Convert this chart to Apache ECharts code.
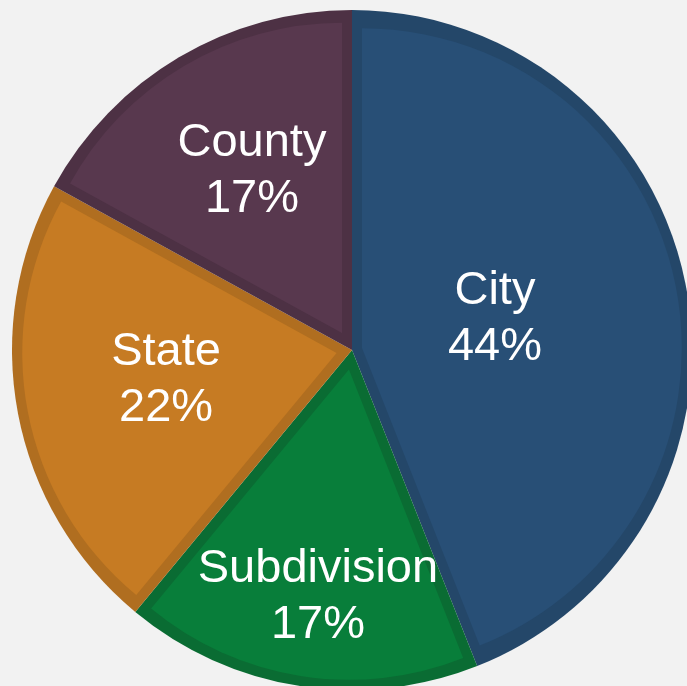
<!DOCTYPE html>
<html>
<head>
<meta charset="utf-8">
<style>
  html, body { margin: 0; padding: 0; background: #f2f2f2; }
  #chart { width: 687px; height: 686px; }
</style>
<script src="https://cdn.jsdelivr.net/npm/echarts@6/dist/echarts.min.js"></script>
</head>
<body>
<div id="chart"></div>
<script>
var categories = ['City', 'Subdivision', 'State', 'County'];
var shares = [44, 17, 22, 17];

var fillColors = ['#284f76', '#087e3a', '#c67b23', '#58384e'];
var edgeColors = ['#244769', '#0a6c33', '#b06e20', '#4d3144'];
var labelOffsets = [[-27, 1], [-7, 76], [-16, -2], [-12, -30]];

var R = 340, band = 10;
var chart = echarts.init(document.getElementById('chart'));
var total = shares.reduce(function (a, b) { return a + b; }, 0);

function basePie(z) {
  return {
    type: 'pie',
    center: [352, 350],
    radius: [0, R],
    startAngle: 90,
    clockwise: true,
    silent: true,
    animation: false,
    emphasis: { disabled: true },
    label: { show: false },
    labelLine: { show: false },
    z: z
  };
}

// outer layer: dark edge colour of each slice
var series = [];
var outer = basePie(1);
outer.data = categories.map(function (c, i) {
  return { name: c, value: shares[i], itemStyle: { color: edgeColors[i] } };
});
series.push(outer);

// inner layers: each slice inset by the band, shifted along its mid angle
categories.forEach(function (c, k) {
  var theta = shares[k] / total * Math.PI * 2;
  var shift = band / Math.sin(Math.min(theta, Math.PI) / 2);
  var s = basePie(2);
  s.radius = [0, R - band - shift];
  s.selectedMode = 'multiple';
  s.selectedOffset = shift;
  s.data = categories.map(function (n, i) {
    return {
      name: n, value: shares[i],
      selected: i === k,
      itemStyle: { color: i === k ? fillColors[i] : 'rgba(0,0,0,0)' }
    };
  });
  series.push(s);
});

// labels on top
var labels = basePie(3);
labels.label = {
  show: true,
  position: 'inside',
  color: '#ffffff',
  fontFamily: 'Liberation Sans, Arial, sans-serif',
  fontSize: 47,
  lineHeight: 56,
  formatter: function (p) { return p.name + '\n' + p.value + '%'; }
};
labels.data = categories.map(function (c, i) {
  return {
    name: c, value: shares[i],
    itemStyle: { color: 'rgba(0,0,0,0)' },
    label: { offset: labelOffsets[i] }
  };
});
series.push(labels);

chart.setOption({
  backgroundColor: '#f2f2f2',
  animation: false,
  series: series
});
</script>
</body>
</html>
